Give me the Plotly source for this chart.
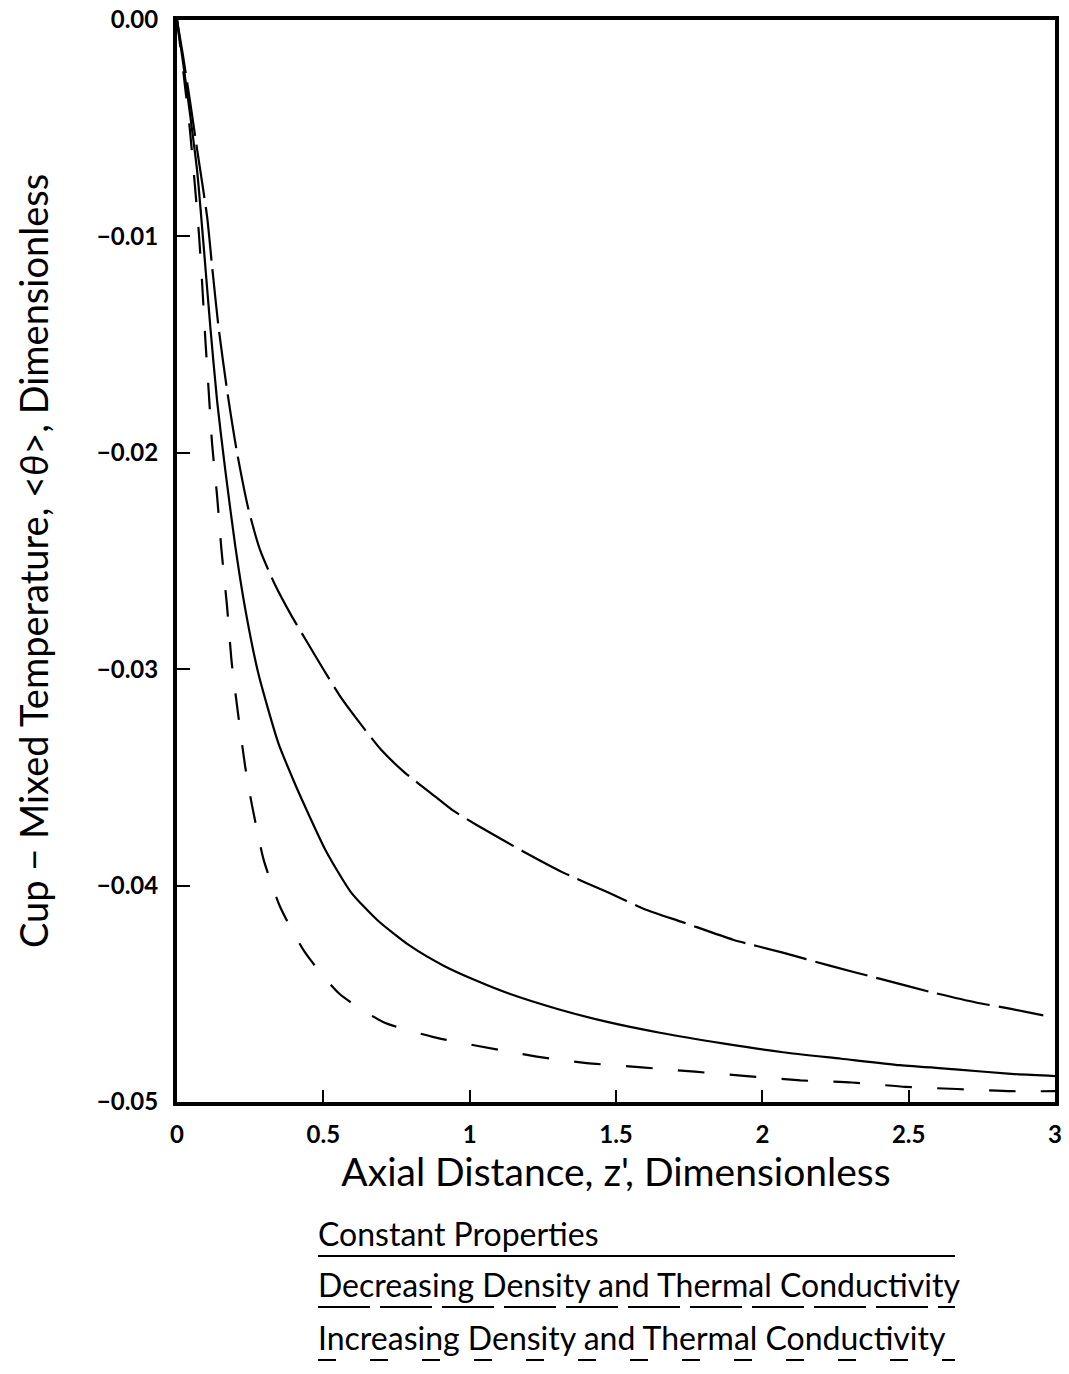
import plotly.graph_objects as go

# Axial distance / cup-mixed temperature for each property case
z_const = [0, 0.02, 0.045, 0.069, 0.092, 0.114, 0.137, 0.165, 0.199, 0.233, 0.278, 0.346,
           0.40, 0.436, 0.509, 0.594, 0.685, 0.798, 0.911, 1.024, 1.136, 1.30, 1.47, 1.65,
           1.87, 2.07, 2.27, 2.47, 2.67, 2.85, 3.0]
t_const = [0, -0.0019, -0.0044, -0.0070, -0.0106, -0.0142, -0.0176, -0.0208, -0.0243,
           -0.0272, -0.0302, -0.0334, -0.0352, -0.0363, -0.0384, -0.0403, -0.0416, -0.0428,
           -0.0437, -0.0444, -0.0450, -0.0457, -0.0463, -0.0468, -0.0473, -0.0477, -0.0480,
           -0.0483, -0.0485, -0.0487, -0.0488]

z_decr = [0, 0.02, 0.045, 0.07, 0.103, 0.120, 0.142, 0.171, 0.204, 0.244, 0.284, 0.335,
          0.39, 0.447, 0.50, 0.560, 0.62, 0.696, 0.78, 0.865, 0.94, 1.024, 1.18, 1.32, 1.47,
          1.60, 1.73, 1.90, 2.07, 2.23, 2.40, 2.57, 2.73, 2.85, 2.96]
t_decr = [0, -0.0016, -0.0038, -0.0061, -0.0091, -0.0114, -0.0142, -0.0171, -0.0199,
          -0.0226, -0.0245, -0.0261, -0.0275, -0.0288, -0.0300, -0.0313, -0.0324, -0.0337,
          -0.0348, -0.0357, -0.0365, -0.0372, -0.0384, -0.0394, -0.0403, -0.0411, -0.0417,
          -0.0425, -0.0431, -0.0437, -0.0443, -0.0449, -0.0454, -0.0457, -0.0460]

z_incr = [0, 0.02, 0.045, 0.075, 0.086, 0.097, 0.108, 0.120, 0.137, 0.152, 0.171, 0.187,
          0.210, 0.233, 0.255, 0.296, 0.353, 0.438, 0.555, 0.704, 0.877, 1.024, 1.229, 1.40,
          1.588, 1.77, 1.947, 2.13, 2.306, 2.49, 2.665, 2.85, 3.0]
t_incr = [0, -0.0022, -0.0052, -0.0099, -0.0122, -0.0148, -0.0171, -0.0196, -0.0220,
          -0.0245, -0.0271, -0.0297, -0.0322, -0.0345, -0.0362, -0.0388, -0.0410, -0.0431,
          -0.0450, -0.0463, -0.0470, -0.0474, -0.0479, -0.0482, -0.0484, -0.0486, -0.0488,
          -0.0490, -0.0491, -0.0493, -0.0494, -0.0495, -0.0495]

legend_labels = ["Constant Properties",
                 "Decreasing Density and Thermal Conductivity",
                 "Increasing Density and Thermal Conductivity"]

x_ticks = [0, 0.5, 1, 1.5, 2, 2.5, 3]
x_ticklabels = ["0", "0.5", "1", "1.5", "2", "2.5", "3"]
y_ticks = [0, -0.01, -0.02, -0.03, -0.04, -0.05]

W, H = 1069, 1374
ML, MR, MT, MB = 177, 14, 20, 272
PW, PH = W - ML - MR, H - MT - MB

DASH_LONG = "54px,9px"
DASH_SHORT = "27px,25px"

fig = go.Figure()
for (zs, ts, dash, name) in [(z_const, t_const, "solid", legend_labels[0]),
                             (z_decr, t_decr, DASH_LONG, legend_labels[1]),
                             (z_incr, t_incr, DASH_SHORT, legend_labels[2])]:
    fig.add_trace(go.Scatter(x=zs, y=ts, mode="lines", name=name, showlegend=False,
                             line=dict(color="black", width=2.2, dash=dash,
                                       shape="spline", smoothing=0.6)))

font_family = "Lato, 'Open Sans', sans-serif"

fig.update_layout(
    width=W, height=H,
    margin=dict(l=ML, r=MR, t=MT, b=MB),
    paper_bgcolor="white", plot_bgcolor="white",
    font=dict(family=font_family, color="black"),
)
fig.update_xaxes(
    range=[0, 3], tickvals=x_ticks, ticktext=x_ticklabels,
    ticks="inside", ticklen=12, tickwidth=1.6, tickcolor="black",
    showline=True, linewidth=4, linecolor="black", mirror=True,
    showgrid=False, zeroline=False, automargin=False,
    tickfont=dict(size=24, weight="bold"), ticklabelstandoff=8,
    title=dict(text="Axial Distance, z', Dimensionless", font=dict(size=39), standoff=6),
)
fig.update_yaxes(
    range=[-0.05, 0], tickvals=y_ticks, tickformat=".2f",
    ticks="inside", ticklen=13, tickwidth=1.6, tickcolor="black",
    showline=True, linewidth=4, linecolor="black", mirror=True,
    showgrid=False, zeroline=False, automargin=False,
    tickfont=dict(size=24, weight="bold"), ticklabelstandoff=10,
    title=dict(text="Cup − Mixed Temperature, &lt;<i>θ</i>&gt;, Dimensionless",
               font=dict(size=38), standoff=38),
)

# Legend below the axes: label text with its line sample underneath
def px_x(px):
    return (px - ML) / PW

def px_y(py):
    return (H - MB - py) / PH

leg_x0, leg_x1 = 318, 955
underline_y = [1256, 1307, 1360]
legend_dashes = ["solid", "52px,10px", "18px,34px"]
for label, dash, uy in zip(legend_labels, legend_dashes, underline_y):
    fig.add_annotation(text=label, xref="paper", yref="paper",
                       x=px_x(leg_x0 - 2), y=px_y(uy - 1), xanchor="left", yanchor="bottom",
                       showarrow=False, font=dict(size=32, family=font_family))
    fig.add_shape(type="line", xref="paper", yref="paper",
                  x0=px_x(leg_x0), x1=px_x(leg_x1), y0=px_y(uy), y1=px_y(uy),
                  line=dict(color="black", width=2.2, dash=dash))

fig.write_html("out.html")
